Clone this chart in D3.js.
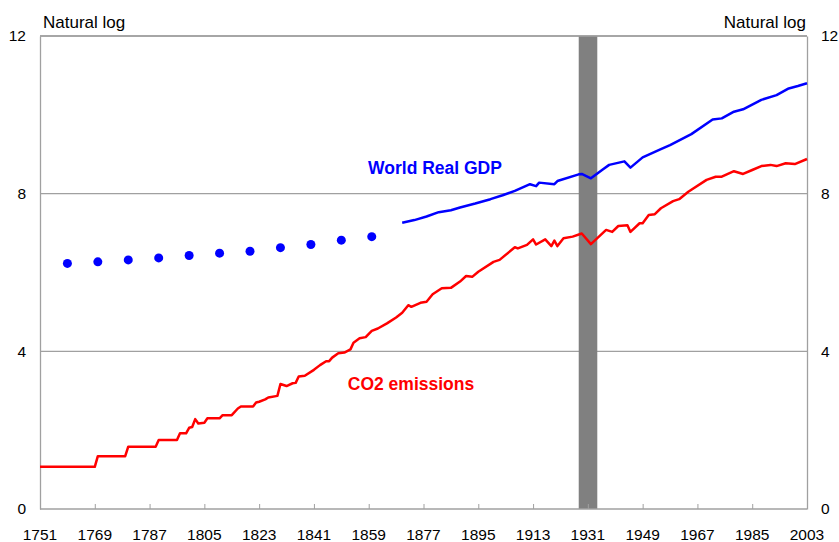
<!DOCTYPE html>
<html lang="en">
<head>
<meta charset="utf-8"/>
<title>World Real GDP and CO2 emissions</title>
<script src="https://d3js.org/d3.v7.min.js"></script>
<style>
  body { margin: 0; background: #fff; }
  text { font-family: "Liberation Sans", Arial, sans-serif; }
</style>
</head>
<body>
<script>
// data (natural log)
var gdpDotYears  = [1760, 1770, 1780, 1790, 1800, 1810, 1820, 1830, 1840, 1850, 1860];
var gdpDotValues = [6.23, 6.27, 6.32, 6.37, 6.43, 6.49, 6.54, 6.63, 6.71, 6.82, 6.91];

var gdpYears  = [1870, 1874, 1878, 1882, 1886, 1889, 1894, 1899, 1903, 1907, 1912, 1914, 1915, 1920,
                 1921, 1928, 1929, 1932, 1936, 1938, 1943, 1945, 1949, 1955, 1958, 1965, 1972, 1975,
                 1979, 1982, 1988, 1993, 1997, 2000, 2003];
var gdpValues = [7.26, 7.33, 7.42, 7.53, 7.58, 7.65, 7.75, 7.86, 7.96, 8.07, 8.24, 8.19, 8.28, 8.24,
                 8.32, 8.49, 8.50, 8.39, 8.62, 8.73, 8.82, 8.66, 8.92, 9.13, 9.23, 9.51, 9.88, 9.91,
                 10.08, 10.14, 10.38, 10.50, 10.67, 10.73, 10.80];

var co2Years  = [1751, 1769, 1770, 1779, 1780, 1789, 1790, 1796, 1797, 1799, 1800, 1801, 1802, 1803,
                 1805, 1806, 1810, 1811, 1814, 1816, 1817, 1821, 1822, 1823, 1825, 1826, 1829, 1830,
                 1832, 1834, 1835, 1836, 1838, 1841, 1843, 1845, 1846, 1847, 1849, 1851, 1853, 1854,
                 1856, 1858, 1860, 1862, 1865, 1868, 1870, 1872, 1873, 1876, 1878, 1880, 1883, 1886,
                 1889, 1891, 1893, 1895, 1900, 1902, 1907, 1908, 1911, 1913, 1914, 1917, 1919, 1920,
                 1921, 1923, 1926, 1929, 1932, 1937, 1939, 1941, 1944, 1945, 1948, 1949, 1951, 1953,
                 1955, 1959, 1961, 1964, 1970, 1973, 1975, 1979, 1982, 1985, 1988, 1991, 1993, 1996,
                 1999, 2003];
var co2Values = [1.07, 1.07, 1.34, 1.34, 1.58, 1.58, 1.75, 1.75, 1.92, 1.92, 2.06, 2.08, 2.28, 2.17,
                 2.19, 2.30, 2.30, 2.38, 2.38, 2.55, 2.60, 2.60, 2.70, 2.72, 2.78, 2.83, 2.87, 3.17,
                 3.12, 3.19, 3.20, 3.36, 3.38, 3.53, 3.65, 3.75, 3.75, 3.84, 3.95, 3.97, 4.05, 4.22,
                 4.33, 4.36, 4.52, 4.58, 4.71, 4.86, 4.98, 5.17, 5.13, 5.23, 5.26, 5.45, 5.60, 5.61,
                 5.77, 5.91, 5.89, 6.02, 6.27, 6.32, 6.64, 6.61, 6.70, 6.84, 6.71, 6.84, 6.67, 6.81,
                 6.67, 6.87, 6.91, 6.99, 6.72, 7.08, 7.03, 7.18, 7.20, 7.03, 7.25, 7.25, 7.46, 7.48,
                 7.63, 7.81, 7.86, 8.05, 8.35, 8.43, 8.43, 8.57, 8.50, 8.60, 8.70, 8.73, 8.70, 8.77,
                 8.75, 8.88];

var depression = [1928, 1934.1];   // shaded band
var xTicks = [1751, 1769, 1787, 1805, 1823, 1841, 1859, 1877, 1895, 1913, 1931, 1949, 1967, 1985, 2003];
var yTicks = [0, 4, 8, 12];

var w = 839, h = 542;
var plotL = 40, plotR = 807, plotT = 36, plotB = 509;
var grey = "#a0a0a0";

var svg = d3.select("body").append("svg")
    .attr("width", w)
    .attr("height", h);

var x = d3.scaleLinear().domain([1751, 2003]).range([plotL, plotR]);
var y = d3.scaleLinear().domain([0, 12]).range([plotB, plotT]);

// gridlines
svg.append("g")
    .selectAll("line")
    .data(yTicks.filter(function(d) { return d > 0; }))
    .enter()
    .append("line")
    .attr("x1", plotL).attr("x2", plotR)
    .attr("y1", function(d) { return y(d); })
    .attr("y2", function(d) { return y(d); })
    .style("stroke", grey)
    .style("stroke-width", 1.3);

// shaded band
svg.append("rect")
    .attr("x", x(depression[0]))
    .attr("width", x(depression[1]) - x(depression[0]))
    .attr("y", y(12))
    .attr("height", y(0) - y(12))
    .style("fill", "#808080");

// x axis (ticks pointing up)
var xAxis = svg.append("g")
    .attr("transform", "translate(0," + plotB + ")")
    .call(d3.axisTop(x).tickValues(xTicks).tickSize(5).tickFormat(""));
xAxis.select(".domain").attr("d", "M" + plotL + ",0H" + plotR).style("stroke", grey).style("stroke-width", 1.3);
xAxis.selectAll(".tick line").style("stroke", grey);

svg.append("g")
    .selectAll("text")
    .data(xTicks)
    .enter()
    .append("text")
    .attr("x", function(d) { return x(d); })
    .attr("y", 540)
    .attr("text-anchor", "middle")
    .style("font-size", "15.5px")
    .text(function(d) { return d; });

// side axes
var yLeft = svg.append("g")
    .attr("transform", "translate(" + plotL + ",0)")
    .call(d3.axisLeft(y).tickValues(yTicks).tickSize(0).tickPadding(14));
var yRight = svg.append("g")
    .attr("transform", "translate(" + plotR + ",0)")
    .call(d3.axisRight(y).tickValues(yTicks).tickSize(0).tickPadding(14));
[yLeft, yRight].forEach(function(g) {
    g.select(".domain").style("stroke", grey).style("stroke-width", 1.3);
    g.selectAll("text")
        .style("font-size", "15.5px")
        .style("font-family", "'Liberation Sans', Arial, sans-serif")
        .style("fill", "#000");
});

// top border
svg.append("line")
    .attr("x1", plotL).attr("x2", plotR)
    .attr("y1", y(12)).attr("y2", y(12))
    .style("stroke", grey)
    .style("stroke-width", 1.3);

// axis titles
svg.append("text").attr("x", 43).attr("y", 28).style("font-size", "17px").text("Natural log");
svg.append("text").attr("x", 806).attr("y", 28).attr("text-anchor", "end").style("font-size", "17px").text("Natural log");

// series
var line = d3.line()
    .x(function(d) { return x(d[0]); })
    .y(function(d) { return y(d[1]); });

svg.append("path")
    .datum(d3.zip(co2Years, co2Values))
    .attr("d", line)
    .style("fill", "none")
    .style("stroke", "#ff0000")
    .style("stroke-width", 2.5)
    .style("stroke-linejoin", "round");

svg.append("path")
    .datum(d3.zip(gdpYears, gdpValues))
    .attr("d", line)
    .style("fill", "none")
    .style("stroke", "#0000ff")
    .style("stroke-width", 2.5)
    .style("stroke-linejoin", "round");

svg.selectAll("circle")
    .data(d3.zip(gdpDotYears, gdpDotValues))
    .enter()
    .append("circle")
    .attr("cx", function(d) { return x(d[0]); })
    .attr("cy", function(d) { return y(d[1]); })
    .attr("r", 4.5)
    .style("fill", "#0000ff");

// labels
svg.append("text")
    .attr("x", 435).attr("y", 174)
    .attr("text-anchor", "middle")
    .style("font-size", "17.5px").style("font-weight", "bold")
    .style("fill", "#0000ff")
    .text("World Real GDP");

svg.append("text")
    .attr("x", 411).attr("y", 390)
    .attr("text-anchor", "middle")
    .style("font-size", "17.5px").style("font-weight", "bold")
    .style("fill", "#ff0000")
    .text("CO2 emissions");
</script>
</body>
</html>
